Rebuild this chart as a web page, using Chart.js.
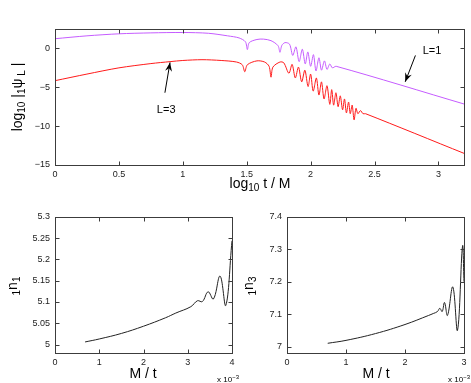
<!DOCTYPE html>
<html>
<head>
<meta charset="utf-8">
<script src="https://cdn.jsdelivr.net/npm/chart.js@4.4.0/dist/chart.umd.min.js"></script>
<style>
  body { margin: 0; background: #fff; width: 471px; height: 383px; position: relative; overflow: hidden; }
  canvas { position: absolute; }
</style>
</head>
<body>
<canvas id="psi" width="471" height="200" style="left:0;top:0"></canvas>
<canvas id="n1" width="240" height="183" style="left:0;top:200px"></canvas>
<canvas id="n3" width="231" height="183" style="left:240px;top:200px"></canvas>
<script>
// top panel: log10 |psi_L| against log10 t/M
var l1X = [0, 0.25, 0.5, 0.75, 1.0, 1.2, 1.35, 1.44, 1.49, 1.505, 1.52, 1.58, 1.63, 1.69, 1.745, 1.76, 1.775, 1.8, 1.835,
           1.86, 1.885, 1.91, 1.935, 1.958, 1.978, 2.0, 2.022, 2.042, 2.065, 2.085, 2.108, 2.128, 2.15, 2.17, 2.2, 3.2];
var l1Y = [1.25, 1.62, 1.88, 2.0, 2.05, 1.95, 1.62, 1.35, 0.85, -0.15, 0.75, 1.15, 1.2, 1.0, 0.35, -0.5, 0.4, 0.75, 0.55,
           -0.9, 0.2, -1.7, -0.1, -2.0, -0.45, -2.3, -0.8, -2.9, -1.2, -2.8, -1.6, -2.7, -2.0, -2.5, -2.3, -7.15];

var l3X = [0, 0.25, 0.5, 0.75, 0.9, 1.0, 1.15, 1.3, 1.42, 1.465, 1.485, 1.505, 1.58, 1.64, 1.675, 1.69, 1.705, 1.76, 1.79,
           1.83, 1.855, 1.88, 1.905, 1.93, 1.955, 1.98, 2.0, 2.02, 2.045, 2.065, 2.085, 2.105, 2.128, 2.15, 2.165, 2.18,
           2.198, 2.215, 2.232, 2.25, 2.265, 2.28, 2.297, 2.31, 2.325, 2.34, 2.355, 2.37, 2.39, 2.41, 2.43, 3.2];
var l3Y = [-4.15, -3.3, -2.5, -1.95, -1.7, -1.55, -1.45, -1.55, -1.75, -2.1, -3.0, -2.1, -1.6, -1.75, -2.3, -3.7, -2.4, -1.75, -1.85,
           -3.2, -2.05, -3.8, -2.4, -4.3, -2.8, -4.9, -3.3, -5.5, -3.8, -6.0, -4.3, -6.5, -4.8, -7.2, -5.3, -7.3,
           -5.7, -7.5, -6.1, -7.9, -6.5, -8.3, -6.9, -8.4, -7.3, -9.2, -7.7, -8.4, -8.0, -8.4, -8.4, -13.5];

var psiXTicks = [0, 0.5, 1, 1.5, 2, 2.5, 3];
var psiYTicks = [-15, -10, -5, 0];

// bottom left: 1n1 against M/t (x 10^-3)
var n1X = [0.68, 1, 1.5, 2, 2.5, 2.73, 3.07, 3.22, 3.33, 3.46, 3.58, 3.73, 3.86, 4.0];
var n1Y = [5.006, 5.013, 5.026, 5.043, 5.063, 5.074, 5.089, 5.103, 5.101, 5.124, 5.107, 5.161, 5.092, 5.244];
var n1XTicks = [0, 1, 2, 3, 4];
var n1YTicks = [5, 5.05, 5.1, 5.15, 5.2, 5.25, 5.3];

// bottom right: 1n3 against M/t (x 10^-3)
var n3X = [0.69, 1, 1.5, 2, 2.4, 2.48, 2.55, 2.59, 2.63, 2.67, 2.72, 2.81, 2.89, 2.975, 3.0];
var n3Y = [7.01, 7.019, 7.04, 7.068, 7.096, 7.102, 7.108, 7.118, 7.108, 7.136, 7.096, 7.184, 7.05, 7.31, 7.2];
var n3XTicks = [0, 1, 2, 3];
var n3YTicks = [7, 7.1, 7.2, 7.3, 7.4];

function pts(xs, ys) {
    return xs.map(function (x, i) { return { x: x, y: ys[i] }; });
}

function fmt(v) {
    return String(+v.toFixed(2)).replace('-', '\u2212');
}

// text with sub/superscripts: parts = [[text, 0 normal | 1 sub | 2 sup], ...]
function drawRich(ctx, t) {
    var size = t.size || 14, small = Math.round(size * 0.72);
    var fam = '"Liberation Sans", Arial, sans-serif';
    var w = 0;
    t.parts.forEach(function (p) {
        ctx.font = (p[1] ? small : size) + 'px ' + fam;
        w += ctx.measureText(p[0]).width;
    });
    ctx.save();
    ctx.translate(t.x, t.y);
    if (t.rot) ctx.rotate(t.rot);
    var x0 = t.align === 'right' ? -w : (t.align === 'left' ? 0 : -w / 2);
    ctx.fillStyle = '#000';
    ctx.textBaseline = 'middle';
    ctx.textAlign = 'left';
    t.parts.forEach(function (p) {
        ctx.font = (p[1] ? small : size) + 'px ' + fam;
        var dy = p[1] === 1 ? size * 0.32 : (p[1] === 2 ? -size * 0.35 : 0);
        ctx.fillText(p[0], x0, dy);
        x0 += ctx.measureText(p[0]).width;
    });
    ctx.restore();
}

var frame = {
    id: 'frame',
    afterDraw: function (chart, args, opts) {
        var ctx = chart.ctx, a = chart.chartArea, sx = chart.scales.x, sy = chart.scales.y;
        var L = Math.round(a.left) + 0.5, R = Math.round(a.right) + 0.5;
        var T = Math.round(a.top) + 0.5, B = Math.round(a.bottom) + 0.5;
        ctx.save();
        ctx.strokeStyle = '#3c3c3c';
        ctx.lineWidth = 1;
        ctx.strokeRect(L, T, R - L, B - T);
        ctx.beginPath();
        sx.ticks.forEach(function (t) {
            var p = Math.round(sx.getPixelForValue(t.value)) + 0.5;
            ctx.moveTo(p, B); ctx.lineTo(p, B - 4);
            ctx.moveTo(p, T); ctx.lineTo(p, T + 4);
        });
        sy.ticks.forEach(function (t) {
            var p = Math.round(sy.getPixelForValue(t.value)) + 0.5;
            ctx.moveTo(L, p); ctx.lineTo(L + 4, p);
            ctx.moveTo(R, p); ctx.lineTo(R - 4, p);
        });
        ctx.stroke();

        (opts.arrows || []).forEach(function (ar) {
            var x1 = sx.getPixelForValue(ar.from[0]), y1 = sy.getPixelForValue(ar.from[1]);
            var x2 = sx.getPixelForValue(ar.to[0]), y2 = sy.getPixelForValue(ar.to[1]);
            var ang = Math.atan2(y2 - y1, x2 - x1);
            ctx.strokeStyle = '#000';
            ctx.beginPath(); ctx.moveTo(x1, y1); ctx.lineTo(x2, y2); ctx.stroke();
            ctx.fillStyle = '#000';
            ctx.beginPath();
            ctx.moveTo(x2, y2);
            ctx.lineTo(x2 - 9 * Math.cos(ang) + 3.5 * Math.sin(ang), y2 - 9 * Math.sin(ang) - 3.5 * Math.cos(ang));
            ctx.lineTo(x2 - 6 * Math.cos(ang), y2 - 6 * Math.sin(ang));
            ctx.lineTo(x2 - 9 * Math.cos(ang) - 3.5 * Math.sin(ang), y2 - 9 * Math.sin(ang) + 3.5 * Math.cos(ang));
            ctx.closePath();
            ctx.fill();
            drawRich(ctx, { x: sx.getPixelForValue(ar.label[0]), y: sy.getPixelForValue(ar.label[1]),
                            size: 11, parts: [[ar.text, 0]] });
        });
        (opts.texts || []).forEach(function (t) { drawRich(ctx, t); });
        ctx.restore();
    }
};

function makeChart(id, data, xr, yr, xTicks, yTicks, box, tension, extra) {
    return new Chart(document.getElementById(id), {
        type: 'line',
        data: { datasets: data.map(function (d) {
            return { data: d.pts, borderColor: d.color, borderWidth: 1, pointRadius: 0, tension: tension, fill: false };
        }) },
        options: {
            responsive: false,
            animation: false,
            layout: { padding: { left: 0, top: box.top, right: box.right, bottom: 0 } },
            plugins: { legend: { display: false }, tooltip: { enabled: false }, frame: extra },
            scales: {
                x: {
                    type: 'linear', min: xr[0], max: xr[1],
                    grid: { display: false, drawTicks: false }, border: { display: false },
                    afterBuildTicks: function (s) { s.ticks = xTicks.map(function (v) { return { value: v }; }); },
                    afterFit: function (s) { s.height = box.xh; },
                    ticks: { color: '#222', padding: 4, maxRotation: 0, font: { family: '"Liberation Sans", Arial', size: 9 }, callback: fmt }
                },
                y: {
                    min: yr[0], max: yr[1],
                    grid: { display: false, drawTicks: false }, border: { display: false },
                    afterBuildTicks: function (s) { s.ticks = yTicks.map(function (v) { return { value: v }; }); },
                    afterFit: function (s) { s.width = box.yw; },
                    ticks: { color: '#222', padding: 5, font: { family: '"Liberation Sans", Arial', size: 9 }, callback: fmt }
                }
            }
        },
        plugins: [frame]
    });
}

makeChart('psi',
    [{ pts: pts(l1X, l1Y), color: '#c55cff' }, { pts: pts(l3X, l3Y), color: '#ff1a1a' }],
    [0, 3.2], [-15, 2.5], psiXTicks, psiYTicks,
    { top: 29, right: 7, xh: 35, yw: 55 }, 0.3,
    {
        arrows: [
            { from: [0.86, -5.7], to: [0.9, -1.8], label: [0.87, -7.9], text: 'L=3' },
            { from: [2.82, -0.9], to: [2.74, -4.3], label: [2.95, -0.35], text: 'L=1' }
        ],
        texts: [
            { x: 18, y: 97, rot: -Math.PI / 2, parts: [['log', 0], ['10', 1], [' |', 0], ['1', 1], ['\u03c8', 0], [' L', 1], [' |', 0]] },
            { x: 260, y: 184, parts: [['log', 0], ['10', 1], [' t / M', 0]] }
        ]
    });

makeChart('n1',
    [{ pts: pts(n1X, n1Y), color: '#222' }],
    [0, 4], [4.98, 5.3], n1XTicks, n1YTicks,
    { top: 17, right: 8, xh: 30, yw: 55 }, 0.4,
    {
        texts: [
            { x: 13, y: 86, rot: -Math.PI / 2, parts: [['1', 1], ['n', 0], ['1', 1]] },
            { x: 143, y: 174, parts: [['M / t', 0]] },
            { x: 239, y: 180, size: 8, align: 'right', parts: [['x 10', 0], ['\u22123', 2]] }
        ]
    });

makeChart('n3',
    [{ pts: pts(n3X, n3Y), color: '#222' }],
    [0, 3], [6.98, 7.4], n3XTicks, n3YTicks,
    { top: 17, right: 7, xh: 30, yw: 47 }, 0.4,
    {
        texts: [
            { x: 9, y: 86, rot: -Math.PI / 2, parts: [['1', 1], ['n', 0], ['3', 1]] },
            { x: 136, y: 174, parts: [['M / t', 0]] },
            { x: 230, y: 180, size: 8, align: 'right', parts: [['x 10', 0], ['\u22123', 2]] }
        ]
    });
</script>
</body>
</html>
